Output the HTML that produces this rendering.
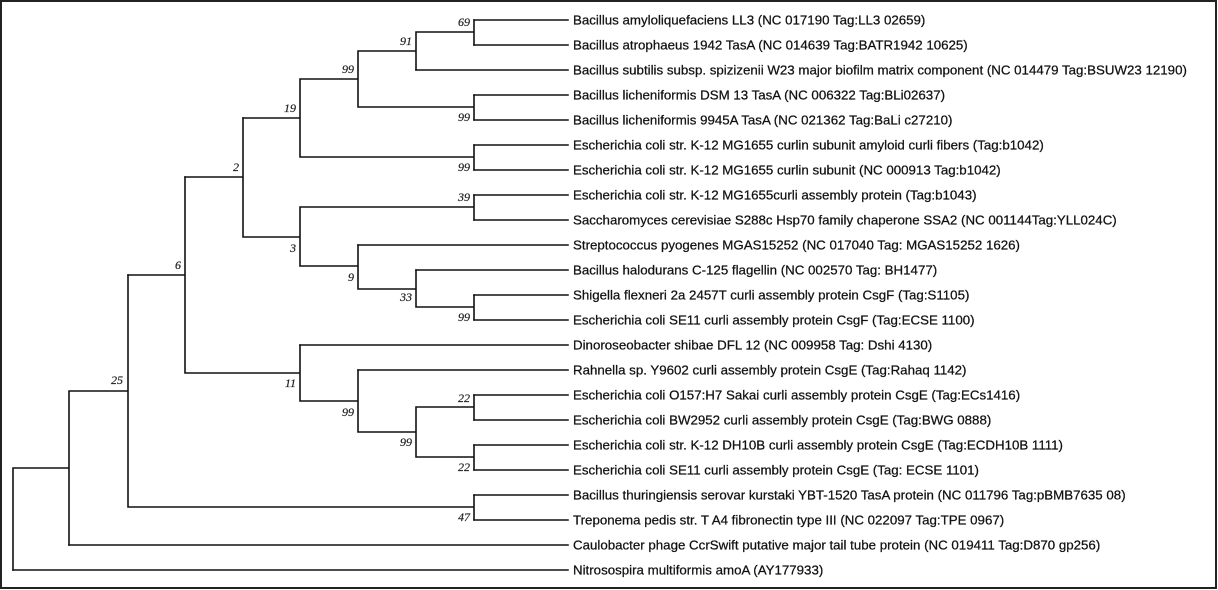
<!DOCTYPE html>
<html><head><meta charset="utf-8"><style>
html,body{margin:0;padding:0;background:#fff;}
svg{display:block;}
.t{font-family:"Liberation Sans",Arial,sans-serif;font-size:13.3px;fill:#111;stroke:#111;stroke-width:0.25px;}
.b{font-family:"Liberation Serif",serif;font-style:italic;font-size:12px;fill:#222;text-anchor:end;stroke:#222;stroke-width:0.2px;}
</style></head><body>
<svg width="1218" height="590" viewBox="0 0 1218 590" xmlns="http://www.w3.org/2000/svg">
<rect x="1" y="1" width="1215" height="587" fill="#fff" stroke="#222" stroke-width="2"/>
<g stroke="#111" stroke-width="1.6" fill="none" stroke-linecap="square">
<path d="M474 20H568M474 45H568M416 70H568M474 95H568M474 120H568M474 145H568M474 170H568M474 195H568M474 220H568M358 245H568M416 270H568M474 295H568M474 320H568M300 345H568M358 370H568M474 395H568M474 420H568M474 445H568M474 470H568M474 495H568M474 520H568M69 545H568M13 570H568"/>
<path d="M474 20V45M416 32H474M416 32V70M358 51H416M474 95V120M358 107H474M358 51V107M300 79H358M474 145V170M300 157H474M300 79V157M243 118H300"/>
<path d="M474 195V220M300 207H474M474 295V320M416 307H474M416 270V307M358 289H416M358 245V289M300 266H358M300 207V266M243 237H300M243 118V237M185 177H243"/>
<path d="M474 395V420M416 407H474M474 445V470M416 457H474M416 407V457M358 432H416M358 370V432M300 401H358M300 345V401M185 373H300M185 177V373M128 275H185"/>
<path d="M474 495V520M128 507H474M128 275V507M69 391H128M69 391V545M13 468H69M13 468V570"/>
</g>
<g class="b">
<text x="470" y="26">69</text>
<text x="412" y="45">91</text>
<text x="354" y="73">99</text>
<text x="470" y="121">99</text>
<text x="296" y="112">19</text>
<text x="470" y="171">99</text>
<text x="239" y="171">2</text>
<text x="470" y="201">39</text>
<text x="296" y="252">3</text>
<text x="354" y="281">9</text>
<text x="412" y="301">33</text>
<text x="470" y="321">99</text>
<text x="181" y="269">6</text>
<text x="296" y="387">11</text>
<text x="470" y="402">22</text>
<text x="354" y="416">99</text>
<text x="412" y="446">99</text>
<text x="470" y="471">22</text>
<text x="123" y="384">25</text>
<text x="470" y="521">47</text>
</g>
<g class="t">
<text x="573" y="24.5">Bacillus amyloliquefaciens LL3 (NC 017190 Tag:LL3 02659)</text>
<text x="573" y="49.5">Bacillus atrophaeus 1942 TasA (NC 014639 Tag:BATR1942 10625)</text>
<text x="573" y="74.5">Bacillus subtilis subsp. spizizenii W23 major biofilm matrix component (NC 014479 Tag:BSUW23 12190)</text>
<text x="573" y="99.5">Bacillus licheniformis DSM 13 TasA (NC 006322 Tag:BLi02637)</text>
<text x="573" y="124.5">Bacillus licheniformis 9945A TasA (NC 021362 Tag:BaLi c27210)</text>
<text x="573" y="149.5">Escherichia coli str. K-12 MG1655 curlin subunit amyloid curli fibers (Tag:b1042)</text>
<text x="573" y="174.5">Escherichia coli str. K-12 MG1655 curlin subunit (NC 000913 Tag:b1042)</text>
<text x="573" y="199.5">Escherichia coli str. K-12 MG1655curli assembly protein (Tag:b1043)</text>
<text x="573" y="224.5">Saccharomyces cerevisiae S288c Hsp70 family chaperone SSA2 (NC 001144Tag:YLL024C)</text>
<text x="573" y="249.5">Streptococcus pyogenes MGAS15252 (NC 017040 Tag: MGAS15252 1626)</text>
<text x="573" y="274.5">Bacillus halodurans C-125 flagellin (NC 002570 Tag: BH1477)</text>
<text x="573" y="299.5">Shigella flexneri 2a 2457T curli assembly protein CsgF (Tag:S1105)</text>
<text x="573" y="324.5">Escherichia coli SE11 curli assembly protein CsgF (Tag:ECSE 1100)</text>
<text x="573" y="349.5">Dinoroseobacter shibae DFL 12 (NC 009958 Tag: Dshi 4130)</text>
<text x="573" y="374.5">Rahnella sp. Y9602 curli assembly protein CsgE (Tag:Rahaq 1142)</text>
<text x="573" y="399.5">Escherichia coli O157:H7 Sakai curli assembly protein CsgE (Tag:ECs1416)</text>
<text x="573" y="424.5">Escherichia coli BW2952 curli assembly protein CsgE (Tag:BWG 0888)</text>
<text x="573" y="449.5">Escherichia coli str. K-12 DH10B curli assembly protein CsgE (Tag:ECDH10B 1111)</text>
<text x="573" y="474.5">Escherichia coli SE11 curli assembly protein CsgE (Tag: ECSE 1101)</text>
<text x="573" y="499.5">Bacillus thuringiensis serovar kurstaki YBT-1520 TasA protein (NC 011796 Tag:pBMB7635 08)</text>
<text x="573" y="524.5">Treponema pedis str. T A4 fibronectin type III (NC 022097 Tag:TPE 0967)</text>
<text x="573" y="549.5">Caulobacter phage CcrSwift putative major tail tube protein (NC 019411 Tag:D870 gp256)</text>
<text x="573" y="574.5">Nitrosospira multiformis amoA (AY177933)</text>
</g>
</svg>
</body></html>
